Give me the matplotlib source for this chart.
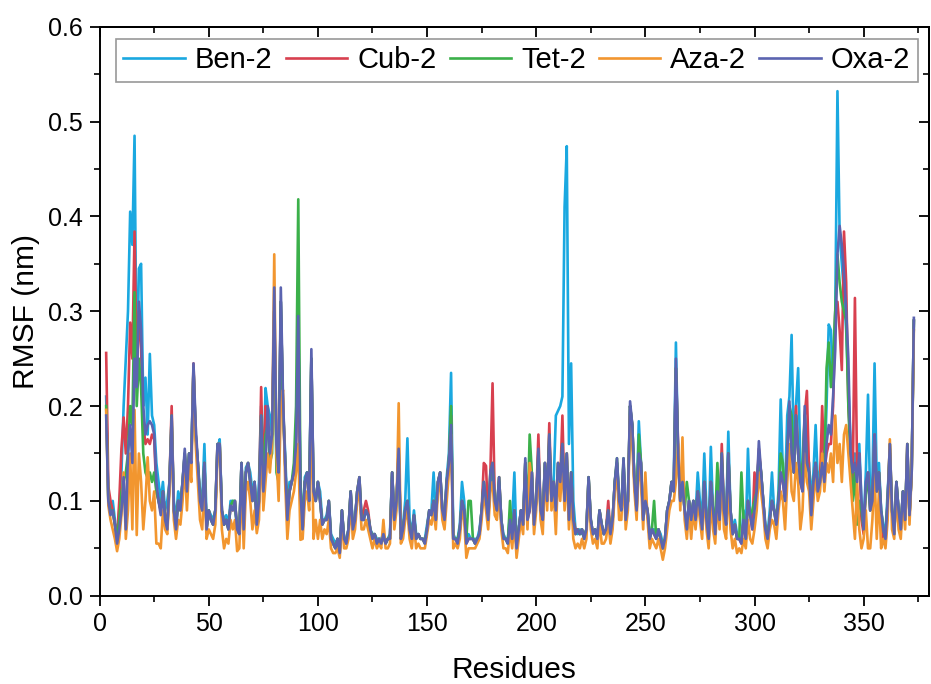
import numpy as np
import matplotlib
matplotlib.use("Agg")
import matplotlib.pyplot as plt
from matplotlib.ticker import MultipleLocator

plt.rcParams["font.family"] = ["Liberation Sans", "DejaVu Sans"]

first_residue = 3

# RMSF (nm) per residue (residues 3..373)
ben_2 = [
    0.21, 0.10, 0.09, 0.10, 0.08, 0.06, 0.09, 0.13, 0.20, 0.25,
    0.30, 0.405, 0.37, 0.485, 0.22, 0.345, 0.35, 0.20, 0.23, 0.17,
    0.255, 0.19, 0.18, 0.14, 0.12, 0.10, 0.12, 0.09, 0.10, 0.12,
    0.18, 0.10, 0.08, 0.11, 0.10, 0.12, 0.15, 0.12, 0.15, 0.15,
    0.24, 0.17, 0.14, 0.11, 0.10, 0.16, 0.08, 0.09, 0.085, 0.08,
    0.09, 0.155, 0.165, 0.09, 0.08, 0.085, 0.075, 0.10, 0.10, 0.09,
    0.075, 0.07, 0.14, 0.075, 0.135, 0.14, 0.13, 0.11, 0.12, 0.08,
    0.12, 0.20, 0.12, 0.219, 0.20, 0.19, 0.17, 0.30, 0.16, 0.13,
    0.31, 0.20, 0.15, 0.09, 0.12, 0.12, 0.13, 0.17, 0.28, 0.12,
    0.07, 0.125, 0.13, 0.11, 0.25, 0.11, 0.10, 0.12, 0.11, 0.08,
    0.08, 0.085, 0.10, 0.065, 0.06, 0.055, 0.06, 0.05, 0.09, 0.06,
    0.06, 0.07, 0.11, 0.075, 0.08, 0.11, 0.12, 0.08, 0.085, 0.09,
    0.085, 0.07, 0.065, 0.065, 0.06, 0.06, 0.06, 0.065, 0.055, 0.06,
    0.065, 0.13, 0.085, 0.10, 0.15, 0.065, 0.075, 0.10, 0.166, 0.08,
    0.065, 0.09, 0.065, 0.065, 0.06, 0.06, 0.06, 0.075, 0.09, 0.09,
    0.13, 0.085, 0.12, 0.13, 0.09, 0.085, 0.125, 0.15, 0.235, 0.065,
    0.06, 0.06, 0.075, 0.12, 0.10, 0.06, 0.065, 0.06, 0.06, 0.06,
    0.06, 0.07, 0.09, 0.12, 0.10, 0.08, 0.12, 0.13, 0.10, 0.09,
    0.12, 0.08, 0.065, 0.06, 0.06, 0.085, 0.08, 0.13, 0.055, 0.07,
    0.09, 0.08, 0.14, 0.085, 0.09, 0.13, 0.08, 0.10, 0.15, 0.09,
    0.085, 0.14, 0.10, 0.16, 0.11, 0.12, 0.19, 0.195, 0.20, 0.21,
    0.41, 0.474, 0.16, 0.245, 0.10, 0.07, 0.065, 0.07, 0.065, 0.065,
    0.07, 0.125, 0.08, 0.065, 0.07, 0.06, 0.09, 0.075, 0.065, 0.07,
    0.09, 0.065, 0.08, 0.12, 0.14, 0.10, 0.09, 0.14, 0.085, 0.10,
    0.20, 0.18, 0.12, 0.10, 0.184, 0.14, 0.085, 0.10, 0.09, 0.065,
    0.07, 0.07, 0.065, 0.07, 0.065, 0.055, 0.06, 0.09, 0.10, 0.12,
    0.12, 0.267, 0.15, 0.10, 0.12, 0.09, 0.075, 0.10, 0.085, 0.10,
    0.085, 0.13, 0.10, 0.08, 0.15, 0.09, 0.07, 0.157, 0.09, 0.07,
    0.12, 0.085, 0.14, 0.09, 0.08, 0.173, 0.09, 0.07, 0.08, 0.065,
    0.06, 0.06, 0.09, 0.065, 0.155, 0.09, 0.075, 0.10, 0.11, 0.15,
    0.13, 0.10, 0.075, 0.065, 0.09, 0.13, 0.09, 0.08, 0.11, 0.207,
    0.13, 0.11, 0.19, 0.21, 0.275, 0.15, 0.20, 0.24, 0.14, 0.12,
    0.19, 0.15, 0.14, 0.10, 0.13, 0.18, 0.12, 0.13, 0.15, 0.13,
    0.20, 0.286, 0.28, 0.22, 0.30, 0.532, 0.38, 0.35, 0.32, 0.28,
    0.22, 0.16, 0.13, 0.15, 0.13, 0.16, 0.10, 0.075, 0.13, 0.212,
    0.10, 0.12, 0.245, 0.12, 0.14, 0.09, 0.075, 0.065, 0.11, 0.15,
    0.09, 0.07, 0.12, 0.09, 0.07, 0.11, 0.085, 0.15, 0.085, 0.13, 0.29,
]

cub_2 = [
    0.256, 0.115, 0.10, 0.09, 0.075, 0.06, 0.10, 0.155, 0.188, 0.15,
    0.20, 0.288, 0.25, 0.384, 0.23, 0.30, 0.26, 0.18, 0.16, 0.165,
    0.16, 0.17, 0.165, 0.11, 0.10, 0.09, 0.11, 0.085, 0.075, 0.12,
    0.20, 0.09, 0.075, 0.10, 0.09, 0.12, 0.15, 0.11, 0.15, 0.14,
    0.245, 0.17, 0.14, 0.10, 0.09, 0.14, 0.07, 0.09, 0.08, 0.075,
    0.09, 0.16, 0.16, 0.09, 0.075, 0.08, 0.07, 0.095, 0.09, 0.10,
    0.07, 0.065, 0.14, 0.07, 0.13, 0.14, 0.12, 0.10, 0.12, 0.075,
    0.10, 0.22, 0.11, 0.20, 0.19, 0.15, 0.17, 0.30, 0.16, 0.13,
    0.31, 0.20, 0.14, 0.08, 0.11, 0.12, 0.13, 0.16, 0.28, 0.10,
    0.07, 0.12, 0.125, 0.10, 0.25, 0.11, 0.10, 0.12, 0.10, 0.075,
    0.08, 0.08, 0.10, 0.06, 0.055, 0.05, 0.06, 0.045, 0.09, 0.06,
    0.055, 0.07, 0.11, 0.07, 0.08, 0.11, 0.125, 0.08, 0.09, 0.10,
    0.09, 0.07, 0.06, 0.065, 0.055, 0.06, 0.055, 0.065, 0.055, 0.06,
    0.06, 0.13, 0.08, 0.10, 0.155, 0.06, 0.07, 0.09, 0.10, 0.07,
    0.06, 0.085, 0.06, 0.065, 0.06, 0.06, 0.055, 0.07, 0.09, 0.085,
    0.10, 0.08, 0.12, 0.13, 0.09, 0.08, 0.12, 0.14, 0.19, 0.06,
    0.06, 0.055, 0.07, 0.10, 0.09, 0.055, 0.06, 0.06, 0.06, 0.055,
    0.06, 0.065, 0.09, 0.14, 0.137, 0.08, 0.13, 0.224, 0.10, 0.09,
    0.125, 0.08, 0.06, 0.06, 0.055, 0.08, 0.06, 0.09, 0.05, 0.07,
    0.09, 0.075, 0.14, 0.08, 0.09, 0.13, 0.08, 0.10, 0.17, 0.09,
    0.08, 0.14, 0.10, 0.182, 0.10, 0.12, 0.09, 0.14, 0.12, 0.19,
    0.10, 0.15, 0.09, 0.13, 0.08, 0.07, 0.07, 0.065, 0.07, 0.06,
    0.07, 0.125, 0.08, 0.065, 0.07, 0.06, 0.09, 0.075, 0.065, 0.07,
    0.10, 0.065, 0.08, 0.12, 0.14, 0.10, 0.09, 0.14, 0.08, 0.10,
    0.20, 0.18, 0.12, 0.09, 0.16, 0.14, 0.08, 0.10, 0.09, 0.06,
    0.07, 0.065, 0.06, 0.07, 0.06, 0.05, 0.06, 0.09, 0.10, 0.12,
    0.11, 0.24, 0.16, 0.10, 0.12, 0.09, 0.07, 0.10, 0.08, 0.10,
    0.08, 0.11, 0.09, 0.07, 0.12, 0.08, 0.06, 0.12, 0.09, 0.065,
    0.11, 0.08, 0.16, 0.09, 0.075, 0.15, 0.09, 0.065, 0.075, 0.06,
    0.06, 0.055, 0.08, 0.06, 0.10, 0.085, 0.07, 0.13, 0.11, 0.155,
    0.13, 0.10, 0.07, 0.06, 0.08, 0.10, 0.09, 0.075, 0.10, 0.13,
    0.12, 0.10, 0.15, 0.19, 0.16, 0.13, 0.20, 0.15, 0.12, 0.11,
    0.19, 0.216, 0.13, 0.09, 0.12, 0.14, 0.11, 0.12, 0.20, 0.13,
    0.15, 0.16, 0.16, 0.20, 0.30, 0.31, 0.28, 0.238, 0.384, 0.33,
    0.20, 0.16, 0.12, 0.314, 0.13, 0.15, 0.08, 0.065, 0.11, 0.13,
    0.09, 0.10, 0.17, 0.11, 0.13, 0.08, 0.06, 0.055, 0.10, 0.16,
    0.09, 0.065, 0.12, 0.09, 0.07, 0.11, 0.08, 0.16, 0.085, 0.13, 0.29,
]

tet_2 = [
    0.20, 0.10, 0.09, 0.09, 0.075, 0.06, 0.08, 0.11, 0.12, 0.13,
    0.15, 0.20, 0.18, 0.32, 0.20, 0.25, 0.22, 0.15, 0.13, 0.124,
    0.13, 0.12, 0.13, 0.11, 0.10, 0.09, 0.11, 0.08, 0.07, 0.12,
    0.19, 0.09, 0.07, 0.10, 0.09, 0.12, 0.15, 0.11, 0.15, 0.14,
    0.24, 0.17, 0.14, 0.10, 0.09, 0.14, 0.07, 0.09, 0.08, 0.075,
    0.09, 0.16, 0.16, 0.09, 0.075, 0.08, 0.07, 0.095, 0.10, 0.10,
    0.07, 0.065, 0.14, 0.07, 0.13, 0.14, 0.12, 0.10, 0.12, 0.075,
    0.10, 0.19, 0.11, 0.17, 0.18, 0.14, 0.15, 0.30, 0.13, 0.12,
    0.31, 0.20, 0.14, 0.08, 0.11, 0.12, 0.14, 0.20, 0.418, 0.12,
    0.07, 0.12, 0.13, 0.10, 0.25, 0.11, 0.10, 0.12, 0.10, 0.075,
    0.08, 0.08, 0.10, 0.06, 0.055, 0.05, 0.06, 0.045, 0.09, 0.06,
    0.055, 0.07, 0.11, 0.07, 0.08, 0.11, 0.125, 0.08, 0.08, 0.09,
    0.085, 0.07, 0.06, 0.065, 0.055, 0.06, 0.055, 0.065, 0.055, 0.06,
    0.06, 0.13, 0.08, 0.10, 0.15, 0.06, 0.07, 0.09, 0.10, 0.07,
    0.06, 0.085, 0.06, 0.065, 0.06, 0.06, 0.055, 0.07, 0.09, 0.085,
    0.10, 0.08, 0.12, 0.13, 0.09, 0.08, 0.12, 0.14, 0.20, 0.06,
    0.06, 0.06, 0.07, 0.10, 0.09, 0.06, 0.10, 0.10, 0.06, 0.055,
    0.06, 0.065, 0.09, 0.12, 0.10, 0.08, 0.13, 0.14, 0.10, 0.09,
    0.125, 0.08, 0.06, 0.06, 0.055, 0.10, 0.06, 0.09, 0.05, 0.07,
    0.09, 0.075, 0.14, 0.08, 0.17, 0.13, 0.075, 0.10, 0.15, 0.09,
    0.08, 0.14, 0.10, 0.17, 0.10, 0.12, 0.09, 0.14, 0.12, 0.16,
    0.10, 0.15, 0.08, 0.13, 0.08, 0.065, 0.07, 0.065, 0.07, 0.06,
    0.07, 0.125, 0.08, 0.065, 0.07, 0.06, 0.09, 0.075, 0.065, 0.07,
    0.09, 0.065, 0.08, 0.12, 0.145, 0.10, 0.09, 0.145, 0.08, 0.10,
    0.20, 0.18, 0.12, 0.09, 0.17, 0.14, 0.08, 0.10, 0.09, 0.06,
    0.07, 0.10, 0.06, 0.07, 0.06, 0.05, 0.06, 0.09, 0.10, 0.12,
    0.11, 0.24, 0.15, 0.10, 0.12, 0.09, 0.12, 0.10, 0.08, 0.10,
    0.08, 0.11, 0.09, 0.07, 0.12, 0.08, 0.06, 0.12, 0.09, 0.08,
    0.14, 0.08, 0.15, 0.09, 0.075, 0.15, 0.09, 0.065, 0.075, 0.06,
    0.06, 0.13, 0.08, 0.06, 0.10, 0.085, 0.09, 0.10, 0.11, 0.15,
    0.13, 0.10, 0.07, 0.06, 0.08, 0.10, 0.09, 0.075, 0.10, 0.15,
    0.14, 0.10, 0.15, 0.20, 0.19, 0.13, 0.19, 0.15, 0.12, 0.14,
    0.19, 0.14, 0.13, 0.09, 0.12, 0.14, 0.11, 0.12, 0.14, 0.13,
    0.24, 0.267, 0.22, 0.25, 0.30, 0.36, 0.33, 0.31, 0.30, 0.29,
    0.20, 0.14, 0.10, 0.13, 0.075, 0.10, 0.09, 0.07, 0.11, 0.12,
    0.09, 0.10, 0.16, 0.11, 0.13, 0.09, 0.07, 0.06, 0.10, 0.16,
    0.09, 0.065, 0.12, 0.09, 0.07, 0.11, 0.08, 0.16, 0.085, 0.13, 0.29,
]

aza_2 = [
    0.196, 0.095, 0.08, 0.07, 0.06, 0.047, 0.06, 0.085, 0.13, 0.06,
    0.09, 0.15, 0.07, 0.196, 0.064, 0.15, 0.12, 0.07, 0.10, 0.146,
    0.10, 0.09, 0.11, 0.055, 0.055, 0.05, 0.09, 0.07, 0.065, 0.11,
    0.18, 0.08, 0.06, 0.08, 0.075, 0.10, 0.14, 0.09, 0.14, 0.12,
    0.24, 0.16, 0.12, 0.08, 0.07, 0.12, 0.06, 0.07, 0.065, 0.06,
    0.075, 0.15, 0.16, 0.07, 0.05, 0.06, 0.055, 0.08, 0.07, 0.08,
    0.047, 0.05, 0.12, 0.05, 0.11, 0.12, 0.10, 0.07, 0.09, 0.066,
    0.08, 0.17, 0.09, 0.12, 0.15, 0.13, 0.16, 0.36, 0.15, 0.10,
    0.20, 0.217, 0.12, 0.06, 0.09, 0.10, 0.11, 0.13, 0.16, 0.059,
    0.06, 0.10, 0.11, 0.09, 0.20, 0.06, 0.08, 0.06, 0.08, 0.06,
    0.07, 0.065, 0.08, 0.05, 0.045, 0.045, 0.05, 0.04, 0.08, 0.05,
    0.05, 0.06, 0.10, 0.06, 0.07, 0.10, 0.11, 0.07, 0.07, 0.08,
    0.07, 0.06, 0.05, 0.06, 0.05, 0.055, 0.05, 0.08, 0.05, 0.05,
    0.055, 0.12, 0.07, 0.09, 0.203, 0.055, 0.06, 0.08, 0.09, 0.06,
    0.05, 0.075, 0.05, 0.055, 0.05, 0.05, 0.05, 0.065, 0.08, 0.075,
    0.09, 0.07, 0.11, 0.12, 0.08, 0.07, 0.10, 0.13, 0.17, 0.05,
    0.055, 0.05, 0.06, 0.09, 0.08, 0.04, 0.05, 0.05, 0.05, 0.05,
    0.055, 0.06, 0.08, 0.11, 0.09, 0.07, 0.11, 0.12, 0.085, 0.08,
    0.11, 0.07, 0.05, 0.05, 0.045, 0.07, 0.05, 0.08, 0.04, 0.06,
    0.08, 0.065, 0.13, 0.07, 0.14, 0.12, 0.065, 0.09, 0.14, 0.08,
    0.065, 0.13, 0.09, 0.15, 0.09, 0.11, 0.065, 0.13, 0.10, 0.14,
    0.09, 0.13, 0.07, 0.11, 0.06, 0.05, 0.055, 0.05, 0.06, 0.05,
    0.06, 0.12, 0.07, 0.055, 0.06, 0.05, 0.08, 0.055, 0.055, 0.06,
    0.08, 0.055, 0.07, 0.11, 0.13, 0.08, 0.08, 0.13, 0.07, 0.09,
    0.19, 0.16, 0.11, 0.08, 0.14, 0.12, 0.07, 0.13, 0.08, 0.05,
    0.06, 0.055, 0.05, 0.06, 0.05, 0.038, 0.05, 0.07, 0.09, 0.10,
    0.10, 0.12, 0.16, 0.09, 0.167, 0.08, 0.06, 0.09, 0.06, 0.09,
    0.07, 0.10, 0.08, 0.06, 0.11, 0.07, 0.05, 0.10, 0.07, 0.055,
    0.10, 0.07, 0.13, 0.07, 0.06, 0.12, 0.07, 0.05, 0.06, 0.045,
    0.05, 0.045, 0.06, 0.05, 0.08, 0.06, 0.055, 0.07, 0.09, 0.13,
    0.11, 0.09, 0.06, 0.05, 0.07, 0.08, 0.075, 0.06, 0.09, 0.11,
    0.10, 0.07, 0.12, 0.16, 0.11, 0.10, 0.14, 0.12, 0.07, 0.09,
    0.15, 0.12, 0.11, 0.07, 0.10, 0.13, 0.10, 0.11, 0.15, 0.11,
    0.14, 0.13, 0.15, 0.12, 0.19, 0.14, 0.16, 0.12, 0.17, 0.18,
    0.15, 0.12, 0.09, 0.06, 0.12, 0.07, 0.05, 0.06, 0.09, 0.05,
    0.05, 0.08, 0.13, 0.06, 0.11, 0.05, 0.06, 0.05, 0.08, 0.165,
    0.07, 0.06, 0.11, 0.07, 0.06, 0.10, 0.07, 0.15, 0.075, 0.13, 0.28,
]

oxa_2 = [
    0.19, 0.10, 0.085, 0.09, 0.075, 0.055, 0.07, 0.09, 0.125, 0.07,
    0.15, 0.18, 0.14, 0.25, 0.22, 0.31, 0.28, 0.20, 0.17, 0.18,
    0.184, 0.18, 0.17, 0.12, 0.10, 0.085, 0.11, 0.08, 0.07, 0.12,
    0.19, 0.09, 0.07, 0.10, 0.09, 0.12, 0.155, 0.11, 0.15, 0.14,
    0.245, 0.18, 0.14, 0.10, 0.09, 0.14, 0.07, 0.09, 0.08, 0.075,
    0.09, 0.16, 0.16, 0.09, 0.075, 0.08, 0.07, 0.095, 0.09, 0.10,
    0.07, 0.065, 0.14, 0.07, 0.13, 0.14, 0.12, 0.10, 0.12, 0.075,
    0.10, 0.19, 0.11, 0.14, 0.20, 0.15, 0.17, 0.325, 0.16, 0.13,
    0.325, 0.21, 0.14, 0.08, 0.11, 0.12, 0.13, 0.16, 0.295, 0.11,
    0.07, 0.12, 0.13, 0.10, 0.26, 0.11, 0.10, 0.12, 0.10, 0.075,
    0.08, 0.08, 0.10, 0.06, 0.055, 0.05, 0.06, 0.045, 0.09, 0.06,
    0.055, 0.07, 0.11, 0.07, 0.08, 0.11, 0.125, 0.08, 0.08, 0.09,
    0.085, 0.07, 0.06, 0.065, 0.055, 0.06, 0.055, 0.065, 0.055, 0.06,
    0.06, 0.13, 0.08, 0.10, 0.155, 0.06, 0.07, 0.09, 0.10, 0.07,
    0.06, 0.085, 0.06, 0.065, 0.06, 0.06, 0.055, 0.07, 0.09, 0.085,
    0.10, 0.08, 0.12, 0.13, 0.09, 0.08, 0.12, 0.14, 0.18, 0.06,
    0.06, 0.055, 0.07, 0.10, 0.09, 0.055, 0.06, 0.06, 0.06, 0.055,
    0.06, 0.065, 0.09, 0.12, 0.10, 0.08, 0.13, 0.14, 0.10, 0.09,
    0.125, 0.08, 0.06, 0.06, 0.055, 0.08, 0.06, 0.09, 0.05, 0.07,
    0.09, 0.075, 0.145, 0.08, 0.09, 0.13, 0.075, 0.10, 0.155, 0.09,
    0.08, 0.14, 0.10, 0.17, 0.10, 0.12, 0.09, 0.14, 0.12, 0.16,
    0.10, 0.15, 0.08, 0.13, 0.08, 0.065, 0.07, 0.065, 0.07, 0.06,
    0.07, 0.125, 0.08, 0.065, 0.07, 0.06, 0.09, 0.075, 0.065, 0.07,
    0.09, 0.065, 0.08, 0.12, 0.145, 0.10, 0.09, 0.145, 0.08, 0.10,
    0.205, 0.18, 0.12, 0.09, 0.15, 0.14, 0.08, 0.10, 0.09, 0.06,
    0.07, 0.065, 0.06, 0.07, 0.06, 0.05, 0.06, 0.09, 0.10, 0.12,
    0.11, 0.25, 0.15, 0.10, 0.12, 0.09, 0.07, 0.10, 0.08, 0.10,
    0.08, 0.11, 0.09, 0.07, 0.12, 0.08, 0.06, 0.12, 0.09, 0.065,
    0.11, 0.08, 0.15, 0.09, 0.075, 0.15, 0.09, 0.065, 0.075, 0.06,
    0.06, 0.055, 0.08, 0.06, 0.10, 0.085, 0.07, 0.09, 0.11, 0.163,
    0.13, 0.10, 0.07, 0.06, 0.08, 0.10, 0.09, 0.075, 0.10, 0.13,
    0.12, 0.10, 0.15, 0.205, 0.15, 0.13, 0.19, 0.15, 0.12, 0.11,
    0.20, 0.14, 0.13, 0.085, 0.12, 0.14, 0.11, 0.12, 0.14, 0.12,
    0.16, 0.18, 0.17, 0.21, 0.26, 0.36, 0.39, 0.37, 0.34, 0.30,
    0.25, 0.15, 0.13, 0.14, 0.12, 0.15, 0.10, 0.07, 0.12, 0.13,
    0.09, 0.10, 0.17, 0.11, 0.13, 0.09, 0.07, 0.06, 0.10, 0.16,
    0.09, 0.065, 0.12, 0.09, 0.07, 0.11, 0.08, 0.16, 0.085, 0.13, 0.293,
]

series_names = ["Ben-2", "Cub-2", "Tet-2", "Aza-2", "Oxa-2"]
series_values = [ben_2, cub_2, tet_2, aza_2, oxa_2]
series_colors = ["#1aa8e0", "#d8404f", "#3bb04a", "#f2962f", "#5b64b0"]

fig = plt.figure(figsize=(9.31, 6.84), dpi=100)
ax = fig.add_axes([0.107, 0.129, 0.891, 0.832])

for name, vals, color in zip(series_names, series_values, series_colors):
    res = np.arange(first_residue, first_residue + len(vals))
    ax.plot(res, vals, color=color, lw=1.9, label=name)

ax.set_xlim(0, 380)
ax.set_ylim(0, 0.6)
ax.xaxis.set_major_locator(MultipleLocator(50))
ax.xaxis.set_minor_locator(MultipleLocator(25))
ax.yaxis.set_major_locator(MultipleLocator(0.1))
ax.yaxis.set_minor_locator(MultipleLocator(0.05))
ax.yaxis.set_major_formatter(plt.FormatStrFormatter("%.1f"))
ax.tick_params(which="major", direction="out", length=7, width=1.3, labelsize=18, pad=5)
ax.tick_params(which="minor", direction="out", length=4, width=1.2)

# top/right axes carry inward ticks without labels
top = ax.secondary_xaxis("top")
top.xaxis.set_major_locator(MultipleLocator(50))
top.xaxis.set_minor_locator(MultipleLocator(25))
top.tick_params(which="major", direction="in", length=7, width=1.3, labeltop=False)
top.tick_params(which="minor", direction="in", length=4, width=1.2)
right = ax.secondary_yaxis("right")
right.yaxis.set_major_locator(MultipleLocator(0.1))
right.yaxis.set_minor_locator(MultipleLocator(0.05))
right.tick_params(which="major", direction="in", length=7, width=1.3, labelright=False)
right.tick_params(which="minor", direction="in", length=4, width=1.2)

for sp in list(ax.spines.values()) + [top.spines["top"], right.spines["right"]]:
    sp.set_linewidth(1.4)

ax.set_xlabel("Residues", fontsize=21.5, labelpad=14)
ax.set_ylabel("RMSF (nm)", fontsize=21.5, labelpad=6)

leg = ax.legend(loc="upper center", bbox_to_anchor=(0.503, 0.978), ncol=5,
                fontsize=21, frameon=True, fancybox=False, edgecolor="#7f7f7f",
                handlelength=2.1, columnspacing=0.45, handletextpad=0.35,
                borderpad=0.25, borderaxespad=0.0)
leg.get_frame().set_linewidth(1.2)

fig.savefig("out.png", dpi=100)
